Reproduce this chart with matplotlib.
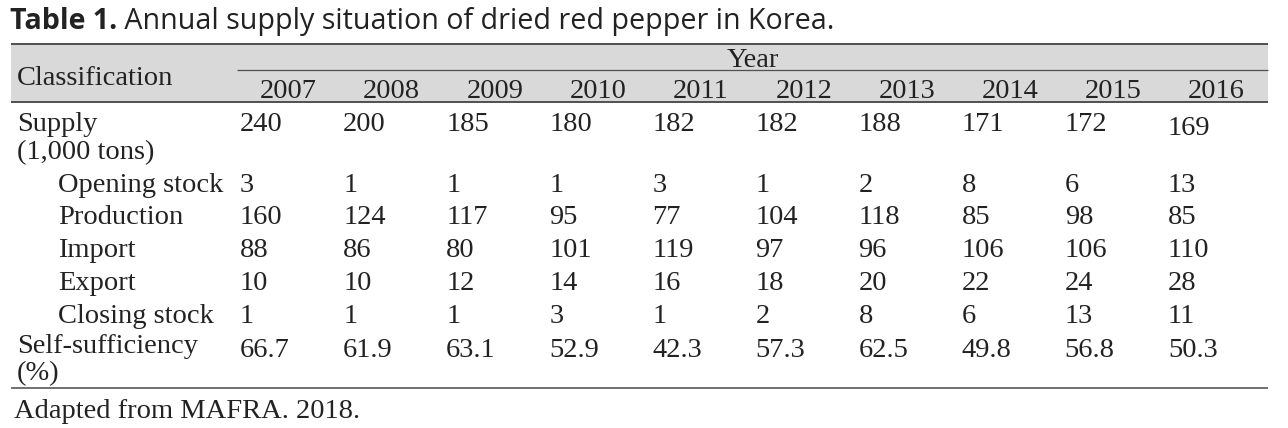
import matplotlib
matplotlib.use("Agg")
import matplotlib.pyplot as plt

# table content
years = [2007, 2008, 2009, 2010, 2011, 2012, 2013, 2014, 2015, 2016]
supply = [240, 200, 185, 180, 182, 182, 188, 171, 172, 169]
opening_stock = [3, 1, 1, 1, 3, 1, 2, 8, 6, 13]
production = [160, 124, 117, 95, 77, 104, 118, 85, 98, 85]
imports = [88, 86, 80, 101, 119, 97, 96, 106, 106, 110]
exports = [10, 10, 12, 14, 16, 18, 20, 22, 24, 28]
closing_stock = [1, 1, 1, 3, 1, 2, 8, 6, 13, 11]
self_sufficiency = [66.7, 61.9, 63.1, 52.9, 42.3, 57.3, 62.5, 49.8, 56.8, 50.3]

title_bold = "Table 1."
title_rest = " Annual supply situation of dried red pepper in Korea."
footer = "Adapted from MAFRA. 2018."

W, H = 1288, 428
SERIF = ["Liberation Serif", "DejaVu Serif"]
SANS = ["Open Sans", "Noto Sans", "DejaVu Sans"]
fs = 20.5
line_col = "#505050"
band_col = "#d9d9d9"

# layout (pixels, y measured from top)
tab_left, tab_right = 11, 1268
col_left = 237
col_w = (tab_right - col_left) / len(years)

fig = plt.figure(figsize=(W / 100, H / 100), dpi=100)
ax = fig.add_axes([0, 0, 1, 1])
ax.set_xlim(0, W)
ax.set_ylim(H, 0)
ax.axis("off")

# title: bold part then regular part right after it
t1 = ax.text(10, 29, title_bold, fontsize=20.6, fontweight="bold", family=SANS,
             va="baseline", color="#222222")
fig.canvas.draw()
bb = t1.get_window_extent(renderer=fig.canvas.get_renderer())
x_after = ax.transData.inverted().transform((bb.x1, bb.y0))[0]
ax.text(x_after, 29, title_rest, fontsize=20.6, family=SANS, va="baseline", color="#222222")

# header band and rules
ax.fill_between([tab_left, tab_right], 44, 102, color=band_col, lw=0, zorder=0)
ax.hlines(44, tab_left, tab_right, color=line_col, lw=1.4)
ax.hlines(102, tab_left, tab_right, color=line_col, lw=1.4)
ax.hlines(70, col_left, tab_right, color=line_col, lw=0.9)
ax.hlines(388, tab_left, tab_right, color="#707070", lw=1.4)

txt = dict(fontsize=fs, family=SERIF, va="baseline", color="#222222")

ax.text(17, 85, "Classification", **txt)
ax.text((col_left + tab_right) / 2, 67, "Year", ha="center", **txt)
for i, y in enumerate(years):
    ax.text(col_left + (i + 0.5) * col_w, 98, str(y), ha="center", **txt)

rows = [
    ("Supply", 17, 131, supply),
    ("Opening stock", 58, 192, opening_stock),
    ("Production", 58, 224, production),
    ("Import", 58, 257, imports),
    ("Export", 58, 290, exports),
    ("Closing stock", 58, 323, closing_stock),
]
for label, lx, by, vals in rows:
    ax.text(lx, by, label, **txt)
    for i, v in enumerate(vals):
        dy = 4 if (label == "Supply" and i == len(vals) - 1) else 0
        ax.text(col_left + i * col_w + 3, by + dy, str(v), **txt)

ax.text(17, 159, "(1,000 tons)", **txt)

ax.text(17, 353, "Self-sufficiency", **txt)
ax.text(17, 380, "(%)", **txt)
for i, v in enumerate(self_sufficiency):
    ax.text(col_left + i * col_w + 3, 357, f"{v:.1f}", **txt)

ax.text(14, 418, footer, **txt)

fig.savefig("out.png", dpi=100)
